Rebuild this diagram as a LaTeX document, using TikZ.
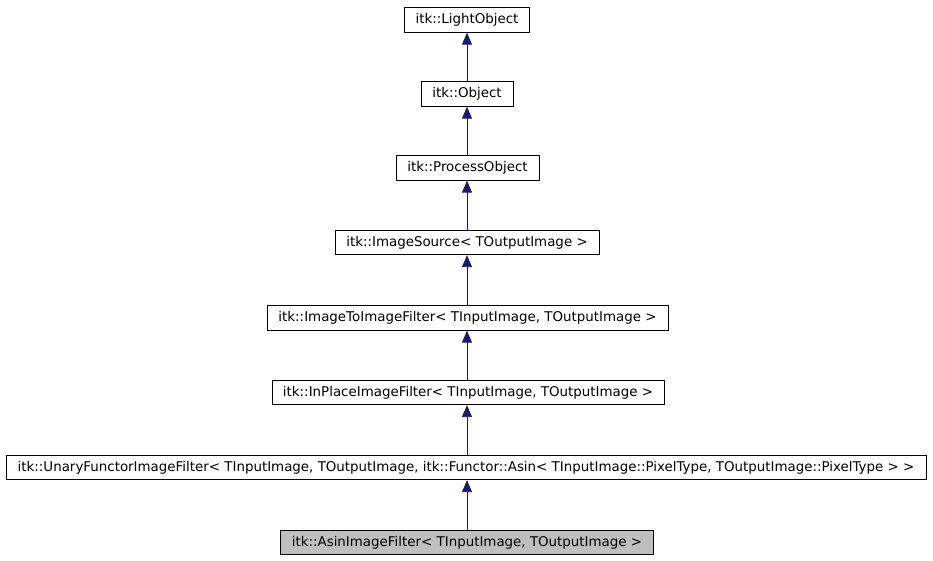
\documentclass[tikz,border=0pt]{standalone}
\usepackage{fontspec}
\setmainfont{DejaVu Sans}
\usetikzlibrary{arrows.meta}
\definecolor{edgeblue}{RGB}{25,25,112}
\definecolor{grayfill}{RGB}{191,191,191}
\tikzset{
  cls/.style={draw=black, line width=0.8pt, fill=white, inner sep=0pt, font=\fontsize{13.4}{15}\selectfont, minimum height=24.5pt, anchor=center},
  inherit/.style={draw=edgeblue, line width=0.9pt, -{Triangle[width=10pt,length=12pt]}, color=edgeblue}
}
\begin{document}
\begin{tikzpicture}[x=1pt,y=-1pt]
\useasboundingbox (0,0) rectangle (933,560);
\node[cls, minimum width=125pt] (n1) at (467,20) {itk::LightObject};
\node[cls, minimum width=92pt] (n2) at (467,94) {itk::Object};
\node[cls, minimum width=143pt] (n3) at (467.5,168) {itk::ProcessObject};
\node[cls, minimum width=264pt] (n4) at (467,242.5) {itk::ImageSource< TOutputImage >};
\node[cls, minimum width=401pt] (n5) at (467.5,318) {itk::ImageToImageFilter< TInputImage, TOutputImage >};
\node[cls, minimum width=392pt] (n6) at (468,392.5) {itk::InPlaceImageFilter< TInputImage, TOutputImage >};
\node[cls, minimum width=920pt] (n7) at (466,467.5) {itk::UnaryFunctorImageFilter< TInputImage, TOutputImage, itk::Functor::Asin< TInputImage::PixelType, TOutputImage::PixelType > >};
\node[cls, fill=grayfill, minimum width=373pt] (n8) at (467,542.5) {itk::AsinImageFilter< TInputImage, TOutputImage >};
\draw[inherit] (n2.north -| 467,0) -- (n1.south -| 467,0);
\draw[inherit] (n3.north -| 467,0) -- (n2.south -| 467,0);
\draw[inherit] (n4.north -| 467,0) -- (n3.south -| 467,0);
\draw[inherit] (n5.north -| 467,0) -- (n4.south -| 467,0);
\draw[inherit] (n6.north -| 467,0) -- (n5.south -| 467,0);
\draw[inherit] (n7.north -| 467,0) -- (n6.south -| 467,0);
\draw[inherit] (n8.north -| 467,0) -- (n7.south -| 467,0);
\end{tikzpicture}
\end{document}
